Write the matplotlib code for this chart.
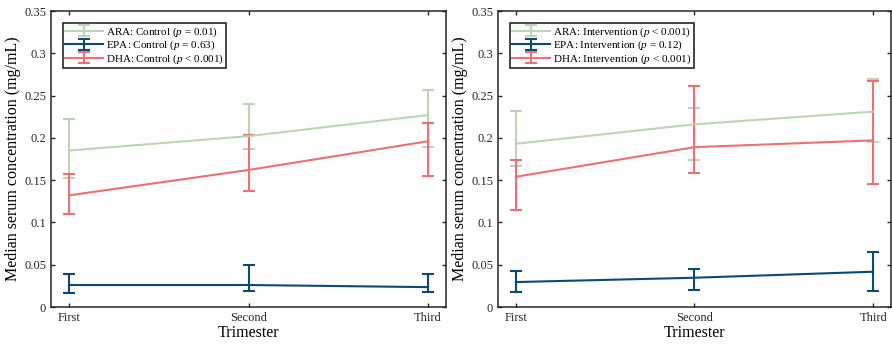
import numpy as np
import matplotlib.pyplot as plt
from matplotlib.ticker import FuncFormatter

plt.rcParams['font.family'] = ['Liberation Serif', 'DejaVu Serif']
plt.rcParams['mathtext.fontset'] = 'custom'
plt.rcParams['mathtext.it'] = 'Liberation Serif:italic'
plt.rcParams['mathtext.rm'] = 'Liberation Serif'

trimesters = ['First', 'Second', 'Third']

# control group: median, upper, lower
ara_ctrl = [0.185, 0.202, 0.227]
ara_ctrl_hi = [0.222, 0.240, 0.256]
ara_ctrl_lo = [0.153, 0.187, 0.189]
epa_ctrl = [0.026, 0.026, 0.0235]
epa_ctrl_hi = [0.039, 0.050, 0.039]
epa_ctrl_lo = [0.0165, 0.0185, 0.0177]
dha_ctrl = [0.132, 0.162, 0.196]
dha_ctrl_hi = [0.157, 0.203, 0.217]
dha_ctrl_lo = [0.110, 0.137, 0.155]

# intervention group
ara_int = [0.193, 0.216, 0.231]
ara_int_hi = [0.232, 0.235, 0.270]
ara_int_lo = [0.167, 0.174, 0.195]
epa_int = [0.0295, 0.0346, 0.0417]
epa_int_hi = [0.0425, 0.0448, 0.065]
epa_int_lo = [0.0173, 0.0197, 0.0185]
dha_int = [0.154, 0.189, 0.197]
dha_int_hi = [0.174, 0.261, 0.267]
dha_int_lo = [0.115, 0.159, 0.145]

labels_ctrl = ['ARA: Control ($p$ = 0.01)', 'EPA: Control ($p$ = 0.63)',
               'DHA: Control ($p$ < 0.001)']
labels_int = ['ARA: Intervention ($p$ < 0.001)', 'EPA: Intervention ($p$ = 0.12)',
              'DHA: Intervention ($p$ < 0.001)']

colors = ['#bcd6b4', '#0d4a73', '#ef6f74']

fig = plt.figure(figsize=(8.92, 3.48), dpi=100)
ax1 = fig.add_axes([51/892, 41/348, 395/892, 296/348])
ax2 = fig.add_axes([498/892, 41/348, 393/892, 296/348])

x = np.arange(len(trimesters))

def draw(ax, series, labels):
    handles = []
    for (m, hi, lo), lab, c in zip(series, labels, colors):
        m = np.array(m); hi = np.array(hi); lo = np.array(lo)
        h = ax.errorbar(x, m, yerr=[m - lo, hi - m], color=c, lw=1.5,
                        capsize=4.5, capthick=1.5, elinewidth=1.5, label=lab)
        handles.append(h)
    ax.set_xlim(-0.1, 2.1)
    ax.set_ylim(0, 0.35)
    ax.set_xticks(x)
    ax.set_xticklabels(trimesters)
    ax.set_yticks(np.arange(0, 0.36, 0.05))
    ax.yaxis.set_major_formatter(FuncFormatter(lambda v, p: '%g' % round(v, 2)))
    ax.tick_params(direction='in', top=True, right=True, labelsize=9,
                   length=3, width=1, colors='#262626', labelcolor='#262626')
    for s in ax.spines.values():
        s.set_linewidth(1.1)
        s.set_color('#262626')
    ax.set_xlabel('Trimester', fontsize=11.5, labelpad=1)
    ax.set_ylabel('Median serum concentration (mg/mL)', fontsize=11.5, labelpad=2)
    leg = ax.legend(handles=handles, loc='upper left', bbox_to_anchor=(0.03, 0.96),
                    fontsize=8, fancybox=False, framealpha=1, edgecolor='#262626',
                    borderpad=0.2, labelspacing=0.0, handlelength=3.4,
                    handletextpad=0.3, borderaxespad=0, handleheight=0.6)
    leg.get_frame().set_linewidth(1.2)

draw(ax1, [(ara_ctrl, ara_ctrl_hi, ara_ctrl_lo),
           (epa_ctrl, epa_ctrl_hi, epa_ctrl_lo),
           (dha_ctrl, dha_ctrl_hi, dha_ctrl_lo)], labels_ctrl)
draw(ax2, [(ara_int, ara_int_hi, ara_int_lo),
           (epa_int, epa_int_hi, epa_int_lo),
           (dha_int, dha_int_hi, dha_int_lo)], labels_int)

fig.savefig('out.png', dpi=100)
